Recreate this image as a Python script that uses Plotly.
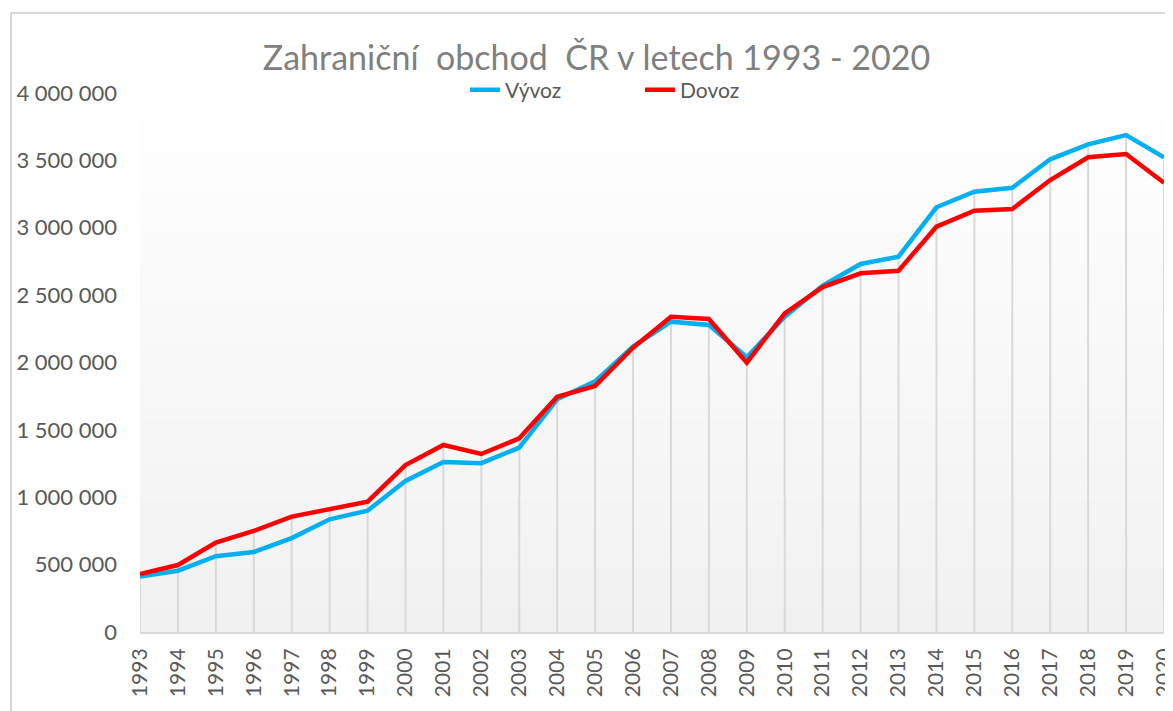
import plotly.graph_objects as go

years = list(range(1993, 2021))
vyvoz = [0.412, 0.455, 0.562, 0.593, 0.697, 0.836, 0.900, 1.121, 1.262, 1.253, 1.368,
         1.727, 1.860, 2.118, 2.303, 2.278, 2.039, 2.340, 2.570, 2.731, 2.785,
         3.152, 3.268, 3.297, 3.508, 3.619, 3.688, 3.523]
dovoz = [0.430, 0.497, 0.663, 0.750, 0.856, 0.913, 0.967, 1.239, 1.388, 1.321, 1.437,
         1.746, 1.826, 2.110, 2.340, 2.323, 1.999, 2.365, 2.560, 2.662, 2.681,
         3.008, 3.127, 3.139, 3.354, 3.523, 3.547, 3.334]
vyvoz = [v * 1e6 for v in vyvoz]
dovoz = [v * 1e6 for v in dovoz]
y_ticks = [0, 500000, 1000000, 1500000, 2000000, 2500000, 3000000, 3500000, 4000000]

FONT = "Lato"
GRAY = "#595959"

fig = go.Figure()

# drop lines from the higher series to the axis
dx, dy = [], []
for yr, a, b in zip(years, vyvoz, dovoz):
    dx += [yr, yr, None]
    dy += [0, max(a, b), None]
fig.add_trace(go.Scatter(x=dx, y=dy, mode="lines", line=dict(color="#d9d9d9", width=2),
                         hoverinfo="skip", showlegend=False))

fig.add_trace(go.Scatter(x=years, y=vyvoz, mode="lines", name="Vývoz",
                         line=dict(color="#00B0F0", width=4.5)))
fig.add_trace(go.Scatter(x=years, y=dovoz, mode="lines", name="Dovoz",
                         line=dict(color="#FF0000", width=4.5)))

# background gradient of the plot area
shapes = []
n = 60
for i in range(n):
    t = i / (n - 1)
    c = round(255 - (255 - 241) * (1 - t))
    shapes.append(dict(type="rect", xref="paper", yref="paper", x0=0, x1=1,
                       y0=i / n, y1=(i + 1) / n, fillcolor=f"rgb({c},{c},{c})",
                       line=dict(width=0), layer="below"))
# chart border
plot_w = 1024
shapes.append(dict(type="rect", xref="paper", yref="paper", x0=(11 - 140) / plot_w, x1=1.2,
                   y0=-0.3, y1=1.1484, line=dict(color="#d9d9d9", width=2),
                   fillcolor="rgba(0,0,0,0)", layer="above"))

fig.update_layout(
    width=1173, height=711,
    margin=dict(l=132, r=17, t=85, b=87, autoexpand=False),
    paper_bgcolor="white", plot_bgcolor="white",
    separators=", ",
    font=dict(family=FONT, color=GRAY),
    title=dict(text="Zahraniční\u00a0 obchod\u00a0 ČR v letech 1993 - 2020",
               x=588.5 / 1173, xanchor="center", y=1 - 50 / 711, yanchor="middle",
               font=dict(family=FONT, size=34, color="#808080")),
    legend=dict(orientation="h", x=(640 - 140) / plot_w, xanchor="center",
                y=(632 - 90) / 539, yanchor="middle",
                font=dict(family=FONT, size=21, color=GRAY),
                bgcolor="rgba(0,0,0,0)", entrywidth=130),
    shapes=shapes,
    showlegend=True,
)
fig.update_xaxes(range=[1993, 2020], tickmode="array", tickvals=years,
                 ticktext=[str(y) for y in years], tickangle=-90,
                 tickfont=dict(family=FONT, size=21, color=GRAY),
                 showgrid=False, zeroline=False, showline=True,
                 linecolor="#d9d9d9", linewidth=2, ticks="", ticklabelstandoff=6)
fig.update_yaxes(range=[0, 4000000], tickmode="array", tickvals=y_ticks,
                 tickformat=",.0f",
                 tickfont=dict(family=FONT, size=22, color=GRAY),
                 showgrid=False, zeroline=False, showline=False, ticks="",
                 ticklabelstandoff=22)

fig.write_html("out.html")
